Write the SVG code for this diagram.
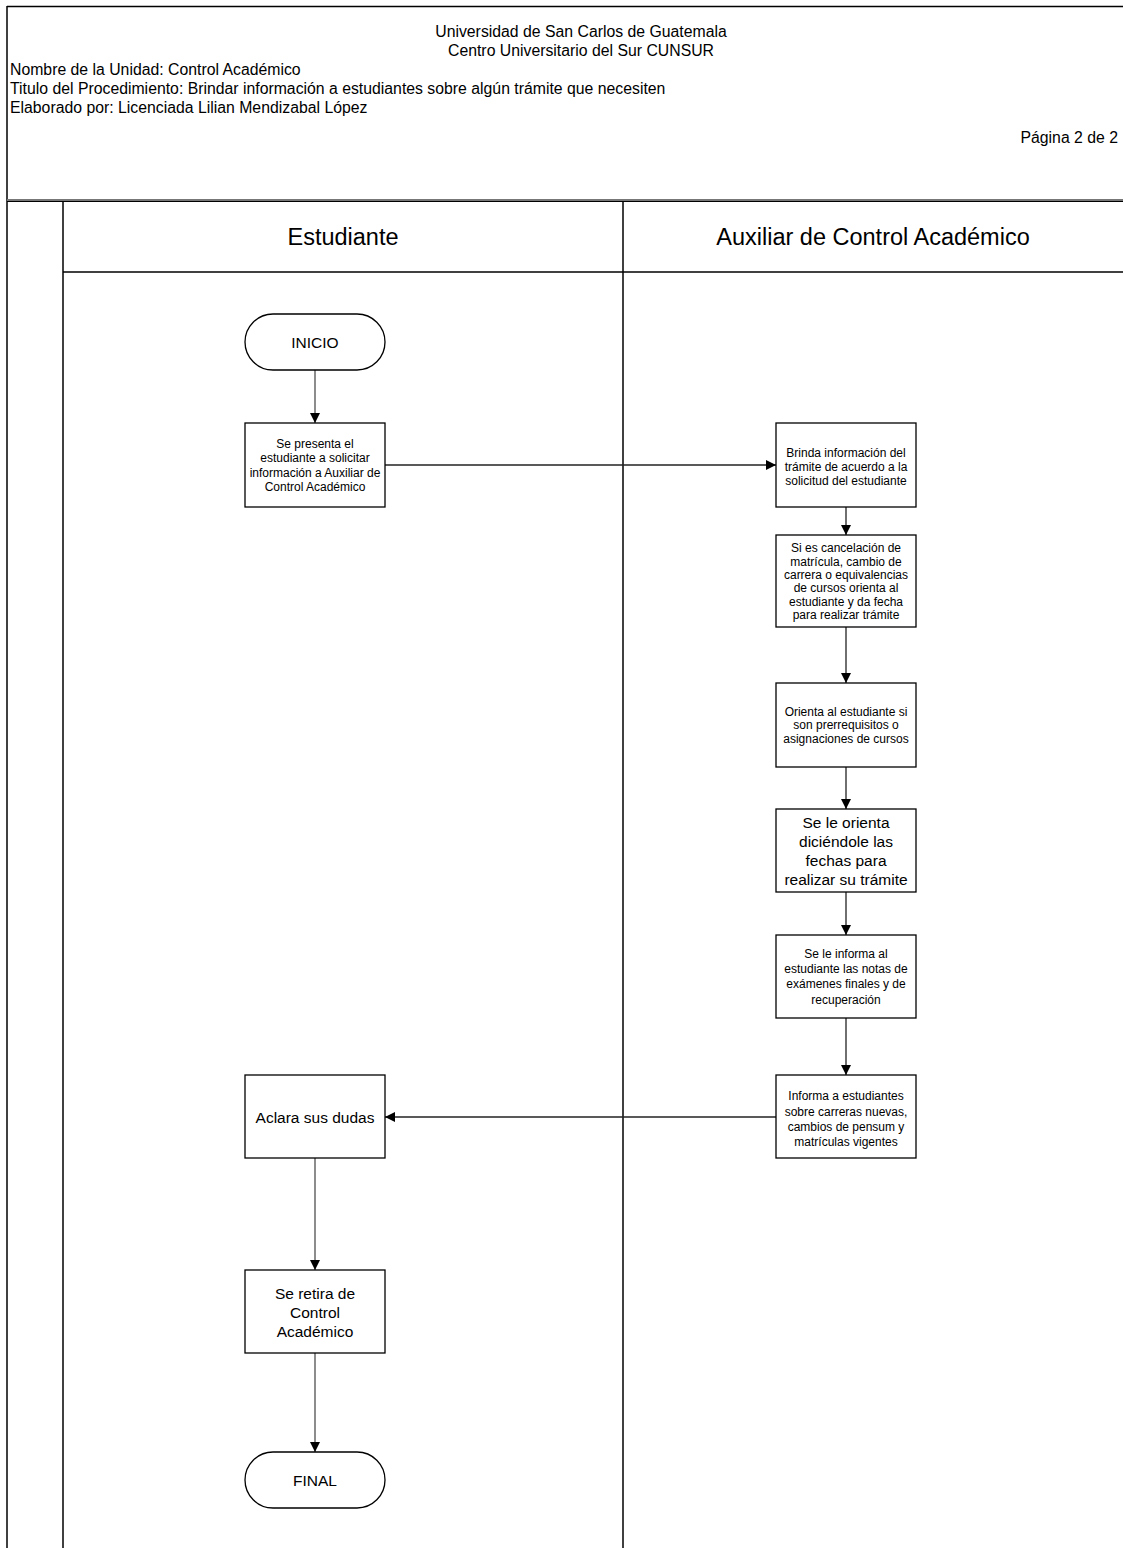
<svg xmlns="http://www.w3.org/2000/svg" width="1123" height="1548" viewBox="0 0 1123 1548">
  <style>
    text { font-family: "Liberation Sans", Arial, sans-serif; fill: #000; }
    .hdr { font-size: 15.8px; }
    .lane { font-size: 23.5px; text-anchor: middle; }
    .sm { font-size: 12px; text-anchor: middle; }
    .lg { font-size: 15.5px; text-anchor: middle; }
    .box { fill: #fff; stroke: #000; stroke-width: 1.3; }
    .frame { stroke: #000; stroke-width: 1.5; fill: none; }
    .conn { stroke: #222; stroke-width: 1.3; fill: none; marker-end: url(#arrow); }
    .conn-g { stroke: #707070; stroke-width: 1.6; fill: none; marker-end: url(#arrow); }
  </style>
  <defs>
    <marker id="arrow" viewBox="0 0 10 10" refX="10" refY="5" markerWidth="10" markerHeight="10" markerUnits="userSpaceOnUse" orient="auto">
      <path d="M0,0 L10,5 L0,10 z" fill="#000"/>
    </marker>
  </defs>

  <rect width="1123" height="1548" fill="#fff"/>

  <!-- page frame and swimlanes -->
  <g id="frame">
    <line class="frame" x1="7" y1="6.5" x2="1123" y2="6.5"/>
    <line class="frame" x1="7" y1="6" x2="7" y2="1548"/>
    <line x1="7" y1="200" x2="1123" y2="200" stroke="#777" stroke-width="2"/>
    <line x1="7" y1="201.5" x2="1123" y2="201.5" stroke="#000" stroke-width="1.2"/>
    <line class="frame" x1="63" y1="201" x2="63" y2="1548"/>
    <line class="frame" x1="623" y1="201" x2="623" y2="1548"/>
    <line x1="63" y1="272" x2="1123" y2="272" stroke="#000" stroke-width="1.3"/>
  </g>

  <g id="header">
    <text class="hdr" x="581" y="37" text-anchor="middle">Universidad de San Carlos de Guatemala</text>
    <text class="hdr" x="581" y="56" text-anchor="middle">Centro Universitario del Sur CUNSUR</text>
    <text class="hdr" x="10" y="75">Nombre de la Unidad: Control Académico</text>
    <text class="hdr" x="10" y="94">Titulo del Procedimiento: Brindar información a estudiantes sobre algún trámite que necesiten</text>
    <text class="hdr" x="10" y="113">Elaborado por: Licenciada Lilian Mendizabal López</text>
    <text class="hdr" x="1118" y="143" text-anchor="end">Página 2 de 2</text>
  </g>

  <g id="lane-titles">
    <text class="lane" x="343" y="245">Estudiante</text>
    <text class="lane" x="873" y="245">Auxiliar de Control Académico</text>
  </g>

  <!-- connectors -->
  <g id="connectors">
    <line class="conn-g" x1="315" y1="370" x2="315" y2="423"/>
    <line class="conn" x1="385" y1="465" x2="776" y2="465"/>
    <line class="conn" x1="846" y1="507" x2="846" y2="535"/>
    <line class="conn" x1="846" y1="627" x2="846" y2="683"/>
    <line class="conn" x1="846" y1="767" x2="846" y2="809"/>
    <line class="conn" x1="846" y1="892" x2="846" y2="935"/>
    <line class="conn" x1="846" y1="1018" x2="846" y2="1075"/>
    <line class="conn" x1="776" y1="1117" x2="385" y2="1117"/>
    <line class="conn-g" x1="315" y1="1158" x2="315" y2="1270"/>
    <line class="conn-g" x1="315" y1="1353" x2="315" y2="1452"/>
  </g>

  <g id="inicio">
    <rect class="box" x="245" y="314" width="140" height="56" rx="28" ry="28"/>
    <text class="lg" x="315" y="347.5">INICIO</text>
  </g>

  <g id="solicita">
    <rect class="box" x="245" y="423" width="140" height="84"/>
    <text class="sm" x="315" y="448">Se presenta el</text>
    <text class="sm" x="315" y="462">estudiante a solicitar</text>
    <text class="sm" x="315" y="477">información a Auxiliar de</text>
    <text class="sm" x="315" y="491">Control Académico</text>
  </g>

  <g id="brinda">
    <rect class="box" x="776" y="423" width="140" height="84"/>
    <text class="sm" x="846" y="457">Brinda información del</text>
    <text class="sm" x="846" y="471">trámite de acuerdo a la</text>
    <text class="sm" x="846" y="485">solicitud del estudiante</text>
  </g>

  <g id="cancelacion">
    <rect class="box" x="776" y="535" width="140" height="92"/>
    <text class="sm" x="846" y="552">Si es cancelación de</text>
    <text class="sm" x="846" y="566">matrícula, cambio de</text>
    <text class="sm" x="846" y="579">carrera o equivalencias</text>
    <text class="sm" x="846" y="592">de cursos orienta al</text>
    <text class="sm" x="846" y="606">estudiante y da fecha</text>
    <text class="sm" x="846" y="619">para realizar trámite</text>
  </g>

  <g id="prerrequisitos">
    <rect class="box" x="776" y="683" width="140" height="84"/>
    <text class="sm" x="846" y="716">Orienta al estudiante si</text>
    <text class="sm" x="846" y="729">son prerrequisitos o</text>
    <text class="sm" x="846" y="743">asignaciones de cursos</text>
  </g>

  <g id="fechas">
    <rect class="box" x="776" y="809" width="140" height="83"/>
    <text class="lg" x="846" y="828">Se le orienta</text>
    <text class="lg" x="846" y="847">diciéndole las</text>
    <text class="lg" x="846" y="866">fechas para</text>
    <text class="lg" x="846" y="885">realizar su trámite</text>
  </g>

  <g id="notas">
    <rect class="box" x="776" y="935" width="140" height="83"/>
    <text class="sm" x="846" y="958">Se le informa al</text>
    <text class="sm" x="846" y="973">estudiante las notas de</text>
    <text class="sm" x="846" y="988">exámenes finales y de</text>
    <text class="sm" x="846" y="1004">recuperación</text>
  </g>

  <g id="carreras">
    <rect class="box" x="776" y="1075" width="140" height="83"/>
    <text class="sm" x="846" y="1100">Informa a estudiantes</text>
    <text class="sm" x="846" y="1116">sobre carreras nuevas,</text>
    <text class="sm" x="846" y="1131">cambios de pensum y</text>
    <text class="sm" x="846" y="1146">matrículas vigentes</text>
  </g>

  <g id="aclara">
    <rect class="box" x="245" y="1075" width="140" height="83"/>
    <text class="lg" x="315" y="1122.5">Aclara sus dudas</text>
  </g>

  <g id="retira">
    <rect class="box" x="245" y="1270" width="140" height="83"/>
    <text class="lg" x="315" y="1298.5">Se retira de</text>
    <text class="lg" x="315" y="1318">Control</text>
    <text class="lg" x="315" y="1336.5">Académico</text>
  </g>

  <g id="final">
    <rect class="box" x="245" y="1452" width="140" height="56" rx="28" ry="28"/>
    <text class="lg" x="315" y="1485.5">FINAL</text>
  </g>
</svg>
